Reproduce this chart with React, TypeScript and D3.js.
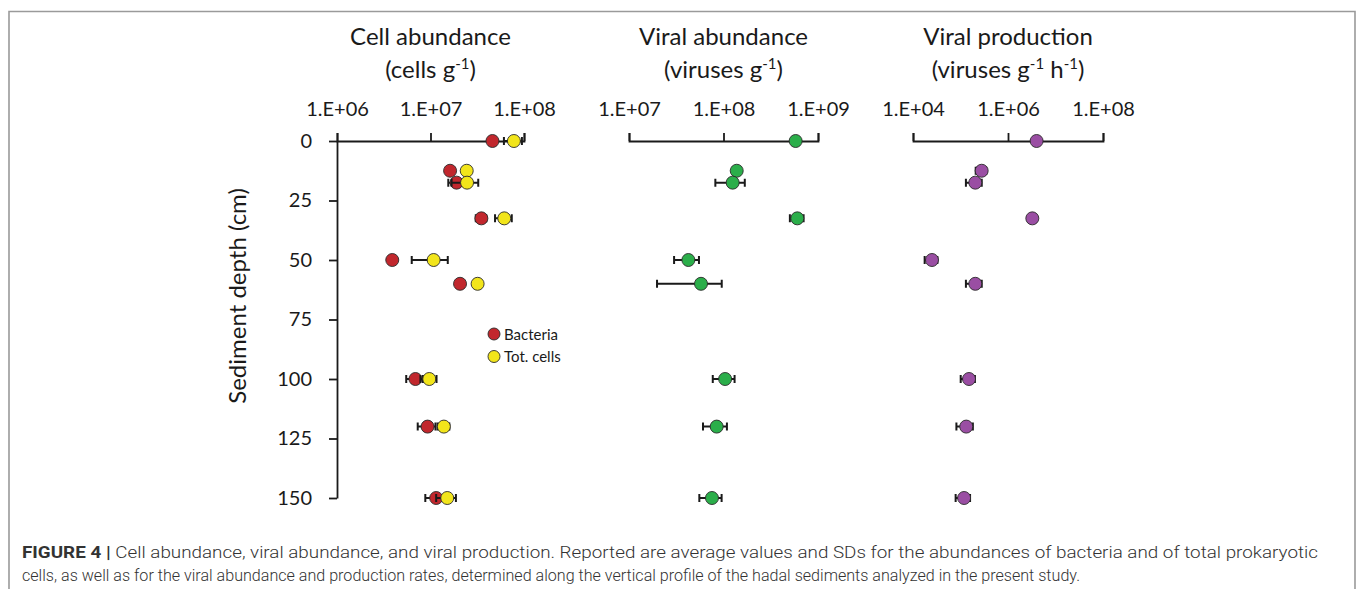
import React, { useEffect, useRef } from 'react';
import * as d3 from 'd3';

// sediment depth (cm) for each sample
const depths = [0, 12.5, 17.5, 32.5, 50, 60, 100, 120, 150];

// cells g-1
const bacteria = [4.6e7, 1.62e7, 1.9e7, 3.5e7, 3.9e6, 2.07e7, 6.9e6, 9.3e6, 1.15e7];
const bacteriaSd = [0, 0, 3.5e6, 4.5e6, 0, 0, 1.4e6, 2e6, 2.7e6];
const totCells = [7.8e7, 2.44e7, 2.46e7, 6.15e7, 1.08e7, 3.19e7, 9.7e6, 1.39e7, 1.51e7];
const totCellsSd = [1.7e7, 0, 7.8e6, 1.25e7, 4.5e6, 0, 1.9e6, 2e6, 3.6e6];

// viruses g-1
const viralAbund = [5.8e8, 1.38e8, 1.25e8, 6.04e8, 4.25e7, 5.78e7, 1.04e8, 8.47e7, 7.55e7];
const viralAbundSd = [0, 0, 4.3e7, 1e8, 1.25e7, 3.8e7, 2.7e7, 2.4e7, 2e7];

// viruses g-1 h-1
const viralProd = [4.0e6, 2.79e5, 2.05e5, 3.25e6, 2.51e4, 2.05e5, 1.51e5, 1.32e5, 1.19e5];
const viralProdSd = [0, 7e4, 7.5e4, 0, 7.5e3, 7.5e4, 5e4, 5e4, 4e4];

const depthTicks = [0, 25, 50, 75, 100, 125, 150];
const legendLabels = ['Bacteria', 'Tot. cells'];

const FONT = 'Lato, "Open Sans", sans-serif';
const CAP_FONT = 'Roboto, "Liberation Sans", sans-serif';
const INK = '#1a1a1a';

function App() {
  const svgRef = useRef(null);

  useEffect(() => {
    const svg = d3.select(svgRef.current);
    svg.selectAll('*').remove();

    // figure frame
    svg.append('path')
      .attr('d', 'M9,589 V11.5 H1355 V589')
      .attr('fill', 'none')
      .attr('stroke', '#9a9a9a')
      .attr('stroke-width', 1.6);

    const y = d3.scaleLinear().domain([0, 150]).range([141, 498]);

    const expFmt = d => '1.E+' + String(Math.round(Math.log10(d))).padStart(2, '0');

    const panels = [
      {
        domain: [1e6, 1e8], range: [337, 524], ticks: [1e6, 1e7, 1e8],
        title: 'Cell abundance', unit: [['(cells g', ''], ['-1', 'sup'], [')', '']],
        series: [
          { values: bacteria, sd: bacteriaSd, fill: '#c1272d' },
          { values: totCells, sd: totCellsSd, fill: '#f2e51b' },
        ],
      },
      {
        domain: [1e7, 1e9], range: [629, 818], ticks: [1e7, 1e8, 1e9],
        title: 'Viral abundance', unit: [['(viruses g', ''], ['-1', 'sup'], [')', '']],
        series: [{ values: viralAbund, sd: viralAbundSd, fill: '#2bae4a' }],
      },
      {
        domain: [1e4, 1e8], range: [913, 1103], ticks: [1e4, 1e6, 1e8],
        title: 'Viral production', unit: [['(viruses g', ''], ['-1', 'sup'], [' h', ''], ['-1', 'sup'], [')', '']],
        series: [{ values: viralProd, sd: viralProdSd, fill: '#9a4ea3' }],
      },
    ];

    panels.forEach((p, pi) => {
      const x = d3.scaleLog().domain(p.domain).range(p.range);
      const cx = (p.range[0] + p.range[1]) / 2;

      // titles
      svg.append('text')
        .attr('x', cx).attr('y', 45)
        .attr('text-anchor', 'middle')
        .attr('font-family', FONT).attr('font-size', 24).attr('fill', INK)
        .text(p.title);
      const unit = svg.append('text')
        .attr('x', cx).attr('y', 78)
        .attr('text-anchor', 'middle')
        .attr('font-family', FONT).attr('font-size', 24).attr('fill', INK);
      p.unit.forEach(([t, kind]) => {
        const ts = unit.append('tspan').text(t);
        if (kind === 'sup') ts.attr('font-size', 15).attr('dy', -9);
        else if (t !== p.unit[0][0]) ts.attr('dy', 9);
      });

      // top x axis crossing at depth 0
      const ax = svg.append('g')
        .attr('transform', `translate(0,${y(0)})`)
        .call(d3.axisTop(x)
          .tickValues(p.ticks)
          .tickFormat(expFmt)
          .tickSize(8)
          .tickSizeOuter(8)
          .tickPadding(17));
      ax.selectAll('path, line').attr('stroke', INK).attr('stroke-width', 1.8);
      ax.selectAll('text')
        .attr('font-family', FONT).attr('font-size', 20).attr('fill', INK);

      if (pi === 0) {
        const ay = svg.append('g')
          .attr('transform', `translate(${p.range[0]},0)`)
          .call(d3.axisLeft(y)
            .tickValues(depthTicks)
            .tickSize(8)
            .tickSizeOuter(0)
            .tickPadding(17));
        ay.selectAll('path, line').attr('stroke', INK).attr('stroke-width', 1.8);
        ay.selectAll('text')
          .attr('font-family', FONT).attr('font-size', 20).attr('fill', INK);
      }

      // series: error bars then markers
      p.series.forEach(s => {
        const g = svg.append('g');
        const rows = depths.map((d, i) => ({ d, v: s.values[i], sd: s.sd[i] }));
        const withSd = rows.filter(r => r.sd > 0);
        g.selectAll('.bar')
          .data(withSd)
          .enter().append('path')
          .attr('d', r => {
            const x0 = x(r.v - r.sd), x1 = x(r.v + r.sd), yy = y(r.d);
            return `M${x0},${yy - 4}V${yy + 4}M${x0},${yy}H${x1}M${x1},${yy - 4}V${yy + 4}`;
          })
          .attr('fill', 'none')
          .attr('stroke', INK)
          .attr('stroke-width', 2);
        g.selectAll('.dot')
          .data(rows)
          .enter().append('circle')
          .attr('cx', r => x(r.v))
          .attr('cy', r => y(r.d))
          .attr('r', 6.5)
          .attr('fill', s.fill)
          .attr('stroke', '#2a2a2a')
          .attr('stroke-width', 0.9);
      });

      if (pi === 0) {
        const lg = svg.append('g').attr('transform', 'translate(494,334)');
        p.series.forEach((s, i) => {
          lg.append('circle')
            .attr('cx', 0).attr('cy', i * 22.5).attr('r', 6)
            .attr('fill', s.fill).attr('stroke', '#2a2a2a').attr('stroke-width', 0.9);
          lg.append('text')
            .attr('x', 10).attr('y', i * 22.5 + 5.5)
            .attr('font-family', FONT).attr('font-size', 15).attr('fill', INK)
            .text(legendLabels[i]);
        });
      }
    });

    // y axis title
    svg.append('text')
      .attr('transform', 'translate(246,296) rotate(-90)')
      .attr('text-anchor', 'middle')
      .attr('font-family', FONT).attr('font-size', 24).attr('fill', INK)
      .text('Sediment depth (cm)');

    // caption
    const cap1 = svg.append('text')
      .attr('x', 22).attr('y', 558)
      .attr('font-family', CAP_FONT)
      .attr('font-size', 16.5).attr('font-weight', 300).attr('fill', '#333')
      .attr('textLength', 1296).attr('lengthAdjust', 'spacingAndGlyphs');
    cap1.append('tspan').attr('font-weight', 700).text('FIGURE 4 | ');
    cap1.append('tspan').text('Cell abundance, viral abundance, and viral production. Reported are average values and SDs for the abundances of bacteria and of total prokaryotic');
    svg.append('text')
      .attr('x', 22).attr('y', 581)
      .attr('font-family', CAP_FONT)
      .attr('font-size', 16.5).attr('font-weight', 300).attr('fill', '#333')
      .attr('textLength', 1058).attr('lengthAdjust', 'spacingAndGlyphs')
      .text('cells, as well as for the viral abundance and production rates, determined along the vertical profile of the hadal sediments analyzed in the present study.');
  }, []);

  return (
    <svg ref={svgRef} width={1357} height={589}
      style={{ position: 'absolute', left: 0, top: 0, background: '#fff' }} />
  );
}

export default App;
